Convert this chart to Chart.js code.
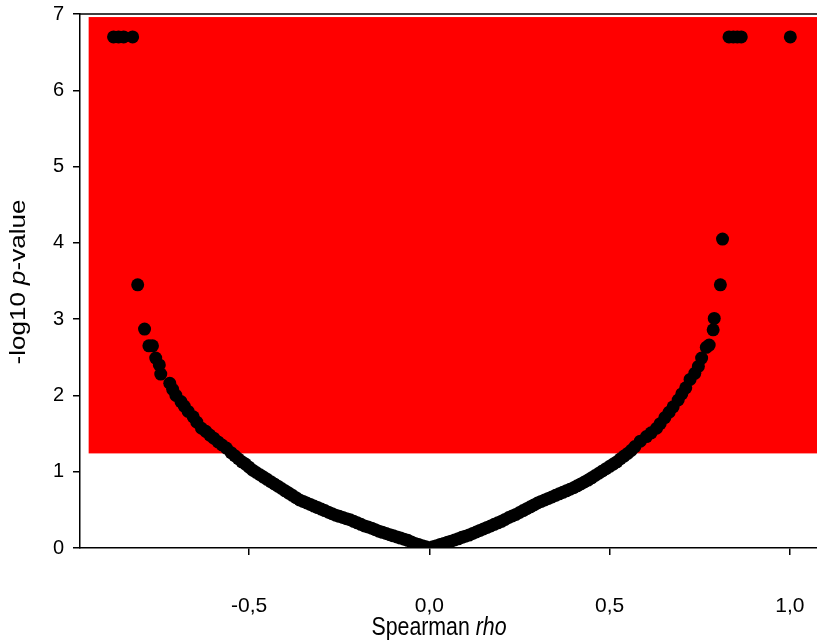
<!DOCTYPE html>
<html>
<head>
<meta charset="utf-8">
<script src="https://cdn.jsdelivr.net/npm/chart.js@4.4.1/dist/chart.umd.min.js"></script>
<style>
  html, body { margin: 0; padding: 0; background: #fff; }
  canvas { display: block; }
</style>
</head>
<body>
<canvas id="volcano" width="817" height="641"></canvas>
<script>
// tick labels
const xTickValues = [-0.5, 0, 0.5, 1.0];
const yTickValues = [0, 1, 2, 3, 4, 5, 6, 7];

// significance band (rho range, -log10 p range)
const shadeRho = [-0.945, 1.08];
const shadeP = [1.24, 6.96];

// negative branch of the curve
const leftRho = [-0.809, -0.79, -0.778, -0.768, -0.759, -0.749, -0.745, -0.72, -0.712, -0.703,
  -0.689, -0.68, -0.669, -0.655, -0.645, -0.632, -0.62, -0.609, -0.598, -0.586, -0.575, -0.563,
  -0.55, -0.54, -0.53, -0.52, -0.51, -0.50, -0.49, -0.48, -0.47, -0.46, -0.45, -0.44, -0.43,
  -0.42, -0.41, -0.40, -0.39, -0.38, -0.37, -0.36, -0.35, -0.34, -0.33, -0.32, -0.31, -0.30,
  -0.29, -0.28, -0.27, -0.26, -0.25, -0.24, -0.23, -0.22, -0.21, -0.20, -0.19, -0.18, -0.17,
  -0.16, -0.15, -0.14, -0.13, -0.12, -0.11, -0.10, -0.09, -0.08, -0.07, -0.06, -0.05, -0.04,
  -0.03, -0.02, -0.01, 0.0];
const leftP = [3.45, 2.87, 2.65, 2.65, 2.49, 2.40, 2.28, 2.16, 2.08, 2.00,
  1.92, 1.86, 1.79, 1.72, 1.65, 1.57, 1.53, 1.48, 1.44, 1.39, 1.35, 1.31,
  1.25, 1.21, 1.17, 1.13, 1.10, 1.06, 1.02, 0.99, 0.96, 0.93, 0.90, 0.87, 0.84,
  0.81, 0.78, 0.75, 0.72, 0.69, 0.66, 0.63, 0.61, 0.59, 0.57, 0.55, 0.53, 0.51,
  0.49, 0.47, 0.45, 0.43, 0.415, 0.40, 0.385, 0.37, 0.35, 0.33, 0.31, 0.29, 0.275,
  0.26, 0.24, 0.22, 0.205, 0.19, 0.175, 0.16, 0.145, 0.13, 0.115, 0.10, 0.08, 0.06,
  0.045, 0.03, 0.015, 0.0];

// positive branch of the curve
const rightRho = [0.01, 0.02, 0.03, 0.04, 0.05, 0.06, 0.07, 0.08, 0.09, 0.10, 0.11, 0.12,
  0.13, 0.14, 0.15, 0.16, 0.17, 0.18, 0.19, 0.20, 0.21, 0.22, 0.23, 0.24, 0.25, 0.26, 0.27,
  0.28, 0.29, 0.30, 0.31, 0.32, 0.33, 0.34, 0.35, 0.36, 0.37, 0.38, 0.39, 0.40, 0.41, 0.42,
  0.43, 0.44, 0.45, 0.46, 0.47, 0.48, 0.49, 0.50, 0.51, 0.52, 0.53, 0.54, 0.55, 0.56,
  0.57, 0.585, 0.602, 0.615, 0.63, 0.64, 0.653, 0.665, 0.676, 0.69, 0.70, 0.711, 0.723,
  0.736, 0.746, 0.755, 0.768, 0.776, 0.787, 0.79, 0.807, 0.813];
const rightP = [0.015, 0.03, 0.045, 0.06, 0.075, 0.09, 0.105, 0.12, 0.14, 0.155, 0.17, 0.19,
  0.21, 0.23, 0.25, 0.27, 0.29, 0.31, 0.33, 0.35, 0.375, 0.40, 0.42, 0.44, 0.465, 0.49, 0.515,
  0.54, 0.565, 0.59, 0.61, 0.63, 0.65, 0.67, 0.69, 0.71, 0.73, 0.75, 0.77, 0.79, 0.815, 0.84,
  0.865, 0.89, 0.92, 0.95, 0.98, 1.01, 1.04, 1.07, 1.10, 1.13, 1.17, 1.205, 1.24, 1.28,
  1.33, 1.40, 1.46, 1.51, 1.57, 1.63, 1.71, 1.78, 1.85, 1.94, 2.02, 2.10, 2.21,
  2.29, 2.38, 2.49, 2.63, 2.66, 2.86, 3.01, 3.45, 4.05];

// capped points at the top
const topRho = [-0.876, -0.862, -0.848, -0.823, 0.831, 0.843, 0.854, 0.865, 1.001];
const topP = [6.70, 6.70, 6.70, 6.70, 6.70, 6.70, 6.70, 6.70, 6.70];

const toPoints = (xs, ys) => xs.map((x, i) => ({ x: x, y: ys[i] }));
const points = [].concat(toPoints(leftRho, leftP), toPoints(rightRho, rightP), toPoints(topRho, topP));

const FONT = '"Liberation Sans", Arial, sans-serif';

const shadePlugin = {
  id: 'shade',
  beforeDatasetsDraw(chart) {
    const { ctx, scales: { x, y } } = chart;
    const x0 = x.getPixelForValue(shadeRho[0]);
    const x1 = x.getPixelForValue(shadeRho[1]);
    const y0 = y.getPixelForValue(shadeP[1]);
    const y1 = y.getPixelForValue(shadeP[0]);
    ctx.save();
    ctx.fillStyle = '#ff0000';
    ctx.fillRect(x0, y0, x1 - x0, y1 - y0);
    ctx.restore();
  }
};

// axis titles with italic parts + top frame line
function drawMixed(ctx, parts, size) {
  let total = 0;
  parts.forEach(p => {
    ctx.font = (p.italic ? 'italic ' : '') + size + 'px ' + FONT;
    p.w = ctx.measureText(p.text).width;
    total += p.w;
  });
  let cx = -total / 2;
  parts.forEach(p => {
    ctx.font = (p.italic ? 'italic ' : '') + size + 'px ' + FONT;
    ctx.fillText(p.text, cx, 0);
    cx += p.w;
  });
}

const titlePlugin = {
  id: 'titles',
  afterDraw(chart) {
    const { ctx, chartArea } = chart;
    ctx.save();
    ctx.strokeStyle = '#000';
    ctx.lineWidth = 1.5;
    ctx.beginPath();
    ctx.moveTo(chartArea.left, chartArea.top);
    ctx.lineTo(chartArea.right, chartArea.top);
    ctx.stroke();

    ctx.fillStyle = '#000';
    ctx.textBaseline = 'middle';
    ctx.textAlign = 'left';
    ctx.save();
    ctx.translate(439, 628);
    ctx.scale(0.82, 1);
    drawMixed(ctx, [{ text: 'Spearman ' }, { text: 'rho', italic: true }], 26);
    ctx.restore();

    ctx.save();
    ctx.translate(19, 282);
    ctx.rotate(-Math.PI / 2);
    ctx.scale(1, 0.85);
    drawMixed(ctx, [{ text: '-log10 ' }, { text: 'p', italic: true }, { text: '-value' }], 26);
    ctx.restore();
    ctx.restore();
  }
};

new Chart(document.getElementById('volcano'), {
  type: 'scatter',
  data: {
    datasets: [{
      data: points,
      backgroundColor: '#000',
      borderWidth: 0,
      pointRadius: 6.5,
      pointHoverRadius: 6.5
    }]
  },
  options: {
    responsive: false,
    animation: false,
    devicePixelRatio: 1,
    layout: { autoPadding: false, padding: { top: 14, right: 0, left: 0, bottom: 0 } },
    plugins: { legend: { display: false }, tooltip: { enabled: false } },
    scales: {
      x: {
        type: 'linear',
        min: -0.969,
        max: 1.075,
        afterBuildTicks: s => { s.ticks = xTickValues.map(v => ({ value: v })); },
        afterFit: s => { s.height = 93; s.paddingLeft = 0; s.paddingRight = 0; },
        ticks: {
          callback: v => v.toFixed(1).replace('.', ','),
          font: { family: FONT, size: 21 },
          color: '#000',
          padding: 39,
          maxRotation: 0,
          autoSkip: false
        },
        grid: { drawOnChartArea: false, drawTicks: true, tickLength: 7, color: '#000', lineWidth: 1.5 },
        border: { color: '#000', width: 1.5 }
      },
      y: {
        type: 'linear',
        min: 0,
        max: 7,
        afterBuildTicks: s => { s.ticks = yTickValues.map(v => ({ value: v })); },
        afterFit: s => { s.width = 80; s.paddingTop = 0; s.paddingBottom = 0; },
        ticks: {
          font: { family: FONT, size: 20 },
          color: '#000',
          padding: 9
        },
        grid: { drawOnChartArea: false, drawTicks: true, tickLength: 7, color: '#000', lineWidth: 1.5 },
        border: { color: '#000', width: 1.5 }
      }
    }
  },
  plugins: [shadePlugin, titlePlugin]
});
</script>
</body>
</html>
